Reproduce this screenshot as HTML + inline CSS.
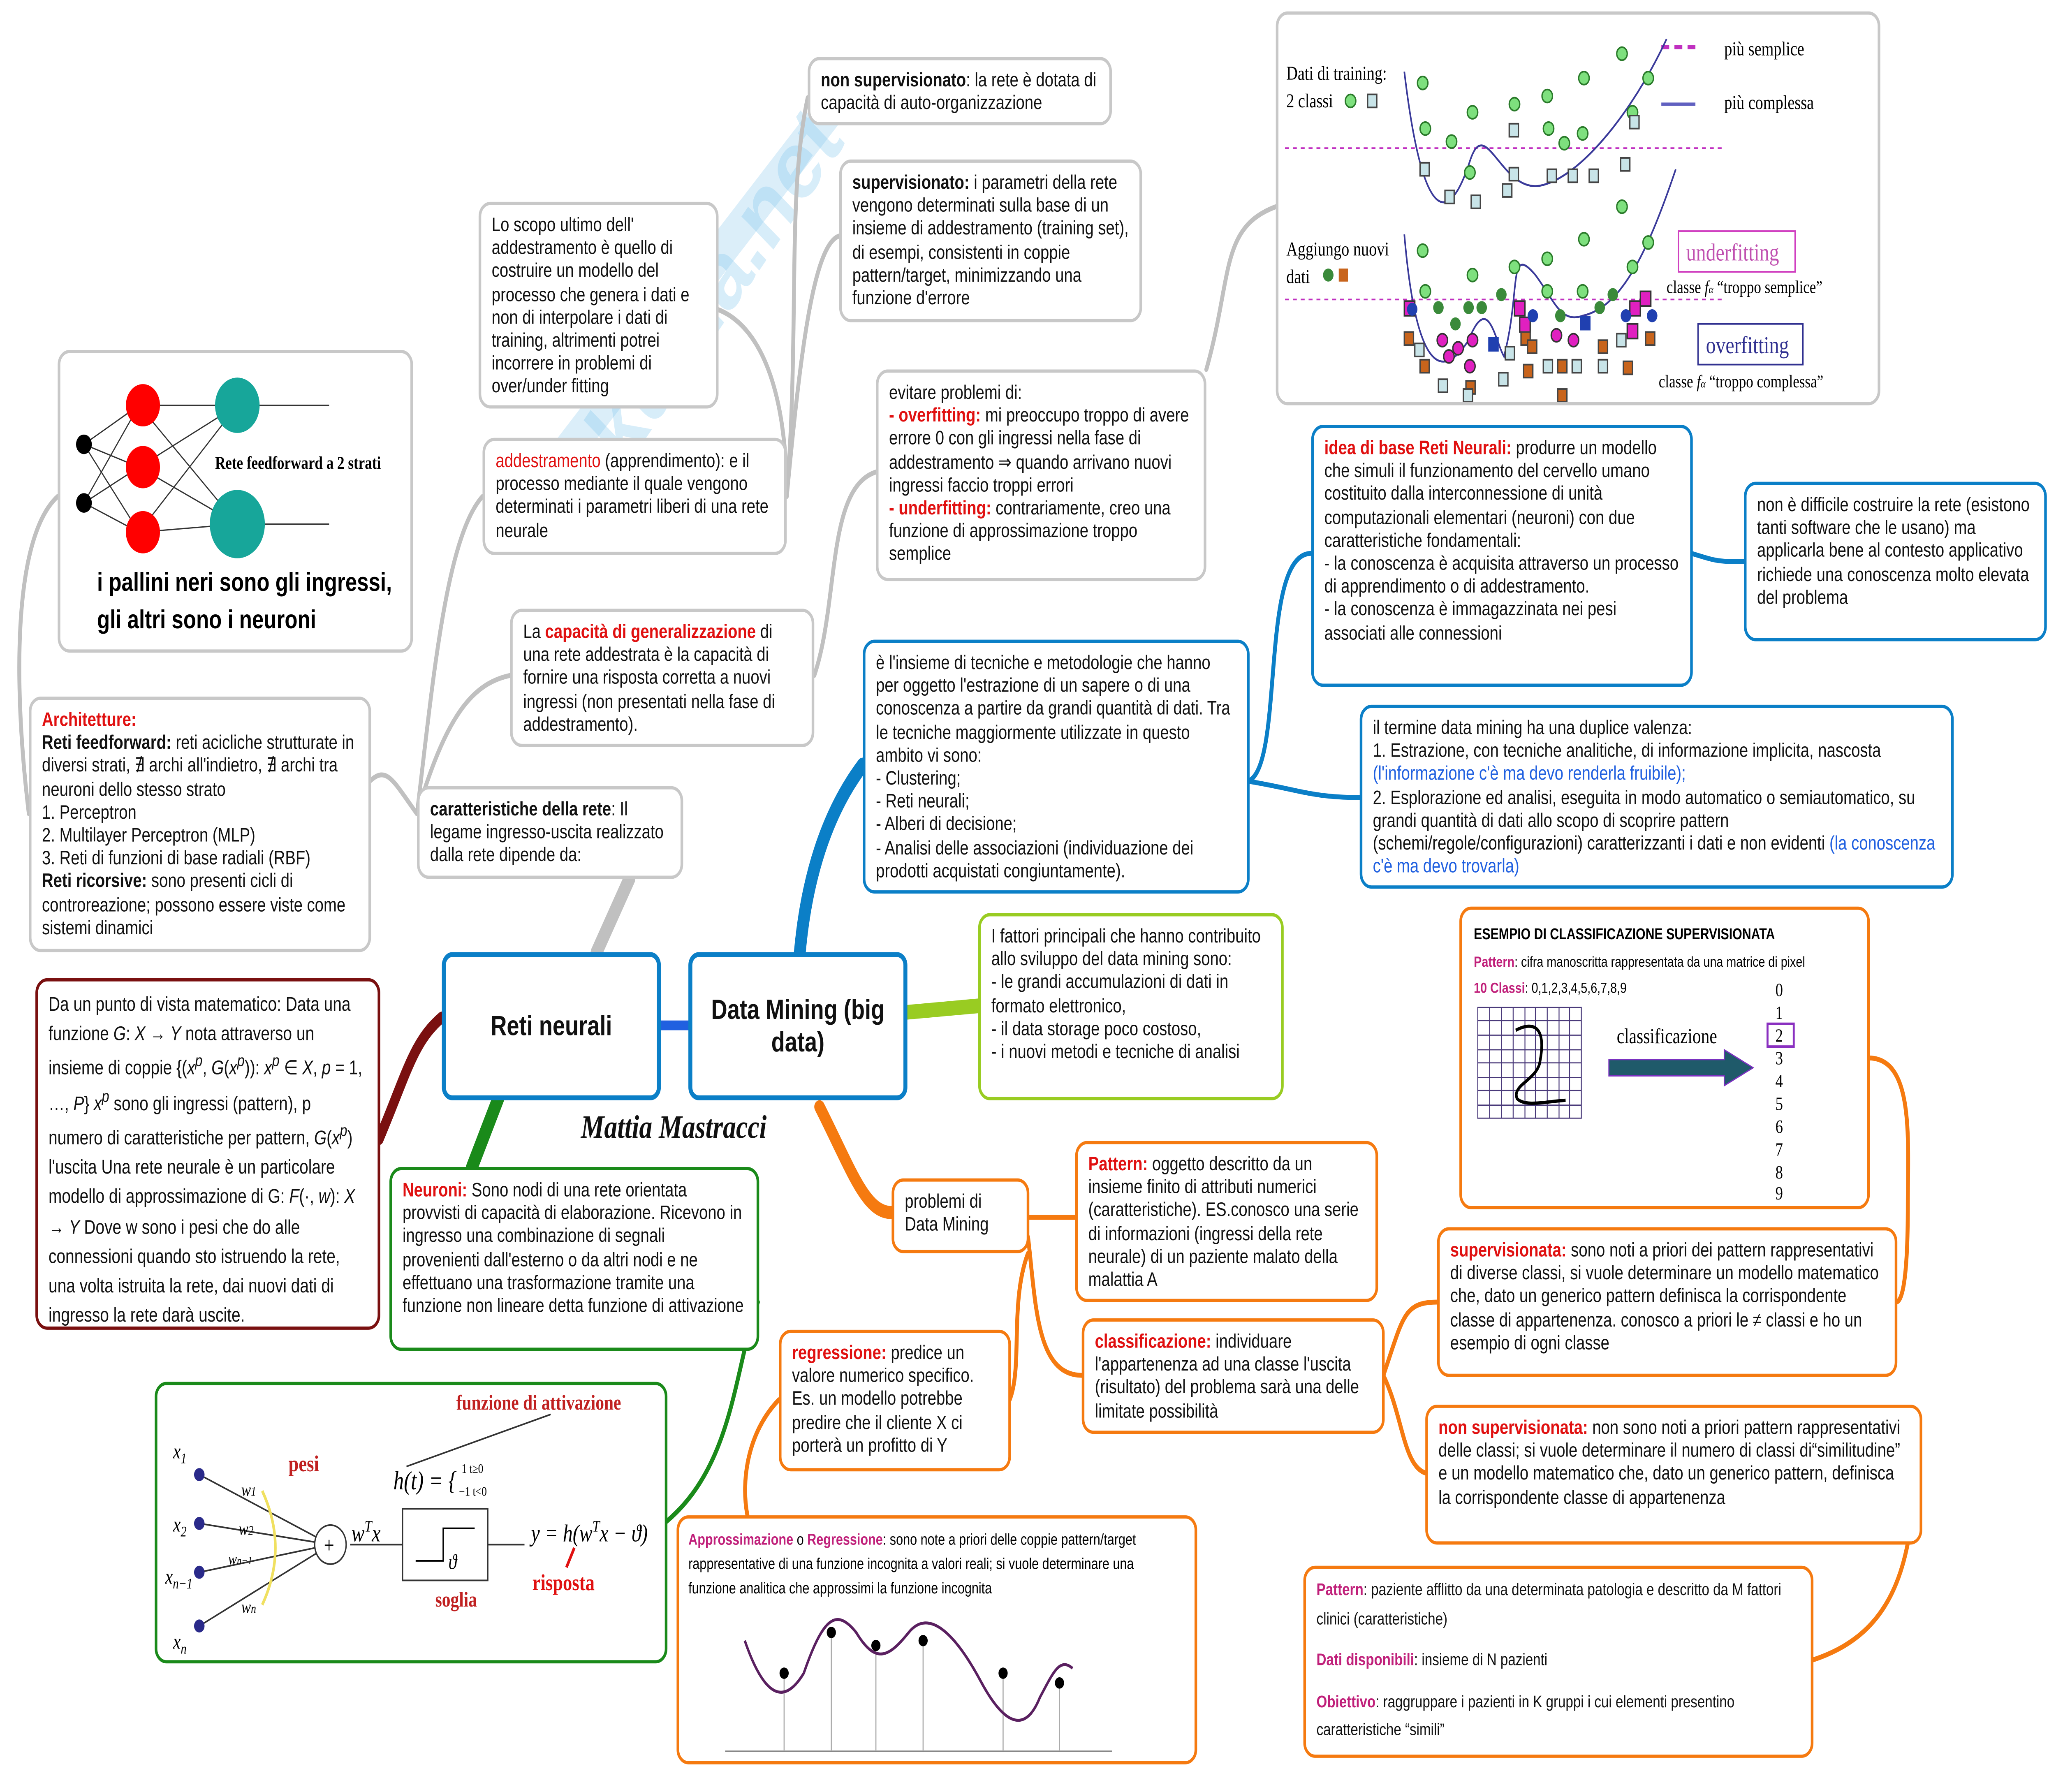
<!DOCTYPE html>
<html><head><meta charset="utf-8"><style>
html,body{margin:0;padding:0;background:#fff;overflow:hidden;}
#root{display:block;width:100vw;height:100vh;}
#s{position:relative;width:1568px;height:1101px;font-family:"Liberation Sans",sans-serif;color:#111;}
.b{position:absolute;box-sizing:border-box;border:2.5px solid #bbb;border-radius:9px;background:#fff;padding:5px 8px;font-size:12px;line-height:14.2px;overflow:hidden;}
.g{border-color:#c8c8c8}
.bl{border-color:#0b7fc7}
.gr{border-color:#1a8a1a}
.lg{border-color:#99cc22}
.or{border-color:#f57a10}
.dr{border-color:#7a1010}
.r{color:#e01010;font-weight:bold}
.pk{color:#c0207a;font-weight:bold}
.blt{color:#2060e0}
.c{position:absolute;box-sizing:border-box;border:3.5px solid #0b7fc7;border-radius:8px;background:#fff;font-size:17px;font-weight:bold;display:flex;align-items:center;justify-content:center;text-align:center;}
#s svg{position:absolute;left:0;top:0;}
</style></head><body>
<svg id="root" viewBox="0 0 1568 1101" preserveAspectRatio="none" xmlns="http://www.w3.org/2000/svg">
<foreignObject x="0" y="0" width="1568" height="1101">
<div xmlns="http://www.w3.org/1999/xhtml" id="s">
<svg width="1568" height="1101" viewBox="0 0 1568 1101" fill="none" stroke-linecap="round">
<g opacity="0.18" stroke="#3aa0e0" stroke-width="22"><path d="M430 280 L640 60"/></g>
<text x="450" y="320" transform="rotate(-50 450 320)" font-size="60" font-weight="bold" fill="#7cc4ee" opacity="0.3" font-family="Liberation Sans">Skuola.net</text>
<g stroke="#c0c0c0" stroke-width="3">
<path d="M318 500 C330 420,340 330,368 305"/>
<path d="M318 500 C340 440,360 420,389 415"/>
<path d="M318 500 C300 480,295 470,282 480"/>
<path d="M22 500 C10 420,10 330,44 305"/>
<path d="M600 305 C610 200,600 120,616 60"/>
<path d="M600 305 C610 220,620 150,640 145"/>
<path d="M547 190 C580 200,600 240,600 305"/>
<path d="M621 415 C640 370,630 300,668 290"/>
<path d="M920 227 C940 170,930 140,973 127"/>
</g>
<path d="M455 585 L480 540" stroke="#c0c0c0" stroke-width="9"/>
<path d="M337 625 C315 640,310 660,289 700" stroke="#7a1010" stroke-width="7"/>
<path d="M380 675 L360 717" stroke="#1a8a1a" stroke-width="9"/>
<path d="M578 800 C560 840,560 900,508 935" stroke="#1a8a1a" stroke-width="3"/>
<path d="M503 630 L525 630" stroke="#2060e0" stroke-width="6"/>
<path d="M610 585 C615 540,630 500,658 470" stroke="#0b7fc7" stroke-width="9"/>
<path d="M952 480 C980 470,960 340,1000 340" stroke="#0b7fc7" stroke-width="3"/>
<path d="M952 480 C990 485,1000 490,1037 490" stroke="#0b7fc7" stroke-width="3"/>
<path d="M1290 340 C1310 345,1310 345,1330 345" stroke="#0b7fc7" stroke-width="3"/>
<path d="M691 622 L746 618" stroke="#99cc22" stroke-width="9"/>
<g stroke="#f57a10" stroke-width="3">
<path d="M625 680 C650 720,660 745,680 745" stroke-width="8"/>
<path d="M784 748 C800 748,810 748,820 748"/>
<path d="M784 760 C790 800,790 845,825 845"/>
<path d="M784 770 C770 800,780 840,770 860"/>
<path d="M594 860 C570 880,565 910,570 931"/>
<path d="M1055 845 C1070 810,1070 800,1096 800"/>
<path d="M1055 845 C1070 870,1070 900,1087 905"/>
<path d="M1425 650 C1460 650,1455 700,1455 740 C1455 790,1450 800,1446 800"/>
<path d="M1455 948 C1445 990,1420 1010,1382 1020"/>
</g>
</svg>

<div class="b g" style="left:616px;top:35px;width:232px;height:42px;"><b>non supervisionato</b>: la rete è dotata di capacità di auto-organizzazione</div>
<div class="b g" style="left:640px;top:98px;width:231px;height:100px;"><b>supervisionato:</b> i parametri della rete vengono determinati sulla base di un insieme di addestramento (training set), di esempi, consistenti in coppie pattern/target, minimizzando una funzione d'errore</div>
<div class="b g" style="left:365px;top:124px;width:183px;height:127px;">Lo scopo ultimo dell' addestramento è quello di costruire un modello del processo che genera i dati e non di interpolare i dati di training, altrimenti potrei incorrere in problemi di over/under fitting</div>

<div class="b g" style="left:44px;top:215px;width:271px;height:186px;padding:0;">
<svg width="271" height="186" viewBox="0 0 271 186">
<g stroke="#333" stroke-width="0.8" fill="none">
<path d="M18 56 L60 32 M18 56 L60 70 M18 56 L60 110 M18 92 L60 32 M18 92 L60 70 M18 92 L60 110 M60 32 L135 32 M60 32 L135 105 M60 70 L135 32 M60 70 L135 105 M60 110 L135 32 M60 110 L135 105 M135 32 L205 32 M135 105 L205 105"/>
</g>
<circle cx="18" cy="56" r="6" fill="#000"/><circle cx="18" cy="92" r="6" fill="#000"/>
<circle cx="63" cy="32" r="13" fill="#f00"/><circle cx="63" cy="70" r="13" fill="#f00"/><circle cx="63" cy="110" r="13" fill="#f00"/>
<circle cx="135" cy="32" r="17" fill="#17a69a"/><circle cx="135" cy="105" r="21" fill="#17a69a"/>
<text x="118" y="71" font-size="11" font-weight="bold" font-family="Liberation Serif" fill="#000">Rete feedforward a 2 strati</text>
<text x="28" y="146" font-size="16" font-weight="bold" fill="#000" font-family="Liberation Sans">i pallini neri sono gli ingressi,</text>
<text x="28" y="169" font-size="16" font-weight="bold" fill="#000" font-family="Liberation Sans">gli altri sono i neuroni</text>
</svg></div>

<div class="b g" style="left:368px;top:269px;width:232px;height:72px;"><span style="color:#e01010">addestramento</span> (apprendimento): e il processo mediante il quale vengono determinati i parametri liberi di una rete neurale</div>
<div class="b g" style="left:668px;top:227px;width:252px;height:130px;">evitare problemi di:<br/><span class="r">- overfitting:</span> mi preoccupo troppo di avere errore 0 con gli ingressi nella fase di addestramento ⇒ quando arrivano nuovi ingressi faccio troppi errori<br/><span class="r">- underfitting:</span> contrariamente, creo una funzione di approssimazione troppo semplice</div>
<div class="b g" style="left:389px;top:374px;width:232px;height:85px;">La <span class="r">capacità di generalizzazione</span> di una rete addestrata è la capacità di fornire una risposta corretta a nuovi ingressi (non presentati nella fase di addestramento).</div>
<div class="b g" style="left:22px;top:428px;width:261px;height:157px;"><span class="r">Architetture:</span><br/><b>Reti feedforward:</b> reti acicliche strutturate in diversi strati, ∄ archi all'indietro, ∄ archi tra neuroni dello stesso strato<br/>1. Perceptron<br/>2. Multilayer Perceptron (MLP)<br/>3. Reti di funzioni di base radiali (RBF)<br/><b>Reti ricorsive:</b> sono presenti cicli di controreazione; possono essere viste come sistemi dinamici</div>
<div class="b g" style="left:318px;top:483px;width:203px;height:57px;"><b>caratteristiche della rete</b>: Il legame ingresso-uscita realizzato dalla rete dipende da:</div>

<div class="c" style="left:337px;top:585px;width:167px;height:91px;">Reti neurali</div>
<div class="c" style="left:525px;top:585px;width:167px;height:91px;">Data Mining (big data)</div>
<div style="position:absolute;left:443px;top:682px;font-family:'Liberation Serif',serif;font-style:italic;font-weight:bold;font-size:20px;">Mattia Mastracci</div>

<div class="b dr" style="left:27px;top:601px;width:263px;height:216px;font-size:12.2px;line-height:18.2px;">Da un punto di vista matematico: Data una funzione <i>G</i>: <i>X</i> → <i>Y</i> nota attraverso un insieme di coppie {(<i>x<sup>p</sup></i>, <i>G</i>(<i>x<sup>p</sup></i>)): <i>x<sup>p</sup></i> ∈ <i>X</i>, <i>p</i> = 1, …, <i>P</i>} <i>x<sup>p</sup></i> sono gli ingressi (pattern), p numero di caratteristiche per pattern, <i>G</i>(<i>x<sup>p</sup></i>) l'uscita Una rete neurale è un particolare modello di approssimazione di G: <i>F</i>(·, <i>w</i>): <i>X</i> → <i>Y</i> Dove w sono i pesi che do alle connessioni quando sto istruendo la rete, una volta istruita la rete, dai nuovi dati di ingresso la rete darà uscite.</div>
<div class="b gr" style="left:297px;top:717px;width:282px;height:113px;"><span class="r">Neuroni:</span> Sono nodi di una rete orientata provvisti di capacità di elaborazione. Ricevono in ingresso una combinazione di segnali provenienti dall'esterno o da altri nodi e ne effettuano una trasformazione tramite una funzione non lineare detta funzione di attivazione</div>

<div class="b gr" style="left:118px;top:849px;width:391px;height:173px;padding:0;">
<svg width="391" height="173" viewBox="0 0 391 173" font-family="Liberation Serif">
<g stroke="#333" stroke-width="1" fill="none"><path d="M32 55 L132 98 M32 85 L132 98 M32 115 L132 98 M32 148 L132 98 M147 98 L187 98 M252 98 L280 98 M190 50 L300 18"/></g>
<g fill="#2a2a8a"><circle cx="32" cy="55" r="4"/><circle cx="32" cy="85" r="4"/><circle cx="32" cy="115" r="4"/><circle cx="32" cy="148" r="4"/></g>
<circle cx="132" cy="98" r="12" stroke="#333" fill="#fff"/><text x="127" y="103" font-size="14">+</text>
<path d="M80 65 Q100 100 80 135" stroke="#f0e060" stroke-width="2" fill="none"/>
<rect x="187" y="76" width="65" height="44" stroke="#333" fill="#fff"/>
<path d="M197 108 L218 108 L218 88 L242 88" stroke="#000" fill="none"/>
<text x="222" y="113" font-size="13" font-style="italic">ϑ</text>
<text x="12" y="45" font-size="13" font-style="italic">x<tspan font-size="9" dy="3">1</tspan></text>
<text x="12" y="90" font-size="13" font-style="italic">x<tspan font-size="9" dy="3">2</tspan></text>
<text x="6" y="122" font-size="13" font-style="italic">x<tspan font-size="9" dy="3">n−1</tspan></text>
<text x="12" y="162" font-size="13" font-style="italic">x<tspan font-size="9" dy="3">n</tspan></text>
<text x="64" y="68" font-size="11" font-style="italic">w<tspan font-size="8">1</tspan></text>
<text x="62" y="92" font-size="11" font-style="italic">w<tspan font-size="8">2</tspan></text>
<text x="54" y="110" font-size="10" font-style="italic">w<tspan font-size="7">n−1</tspan></text>
<text x="64" y="140" font-size="11" font-style="italic">w<tspan font-size="8">n</tspan></text>
<text x="100" y="53" font-size="14" font-weight="bold" fill="#c02020">pesi</text>
<text x="148" y="96" font-size="15" font-style="italic">w<tspan font-size="10" dy="-6">T</tspan><tspan dy="6">x</tspan></text>
<text x="180" y="64" font-size="16" font-style="italic">h(t) = {</text>
<text x="232" y="54" font-size="8">1    t≥0</text><text x="230" y="68" font-size="8">−1   t&lt;0</text>
<text x="228" y="15" font-size="13" font-weight="bold" fill="#c02020">funzione di attivazione</text>
<text x="285" y="96" font-size="15" font-style="italic">y = h(w<tspan font-size="10" dy="-6">T</tspan><tspan dy="6">x − ϑ)</tspan></text>
<text x="212" y="136" font-size="13" font-weight="bold" fill="#c02020">soglia</text>
<text x="286" y="126" font-size="14" font-weight="bold" fill="#e01010">risposta</text>
<path d="M312 112 L318 100" stroke="#e01010" stroke-width="2"/>
</svg></div>

<div class="b g" style="left:973px;top:7px;width:461px;height:242px;padding:0;">
<svg width="461" height="242" viewBox="0 0 461 242" font-family="Liberation Serif">
<text x="6" y="40" font-size="12">Dati di training:</text><text x="6" y="57" font-size="12">2 classi</text>
<circle cx="55" cy="53" r="4" fill="#7ee07e" stroke="#2a7a2a"/><rect x="68" y="49" width="7" height="8" fill="#c8e4e8" stroke="#444"/>
<path d="M292 20 L318 20" stroke="#c030c0" stroke-width="2.5" stroke-dasharray="6 4" fill="none"/><text x="340" y="25" font-size="12">più semplice</text>
<path d="M292 55 L318 55" stroke="#6060c0" stroke-width="2" fill="none"/><text x="340" y="58" font-size="12">più complessa</text>
<path d="M5 82 L340 82" stroke="#c030c0" stroke-dasharray="3 3" fill="none"/>
<path d="M96 35 C110 130,130 130,146 90 C158 60,170 110,200 105 C230 100,270 60,296 15" stroke="#3a3a9a" stroke-width="1.2" fill="none"/>
<g fill="#7ee07e" stroke="#2a7a2a"><circle cx="110" cy="42" r="4"/><circle cx="112" cy="70" r="4"/><circle cx="132" cy="78" r="4"/><circle cx="148" cy="60" r="4"/><circle cx="180" cy="55" r="4"/><circle cx="205" cy="50" r="4"/><circle cx="206" cy="70" r="4"/><circle cx="218" cy="79" r="4"/><circle cx="232" cy="73" r="4"/><circle cx="233" cy="39" r="4"/><circle cx="262" cy="24" r="4"/><circle cx="270" cy="60" r="4"/><circle cx="282" cy="39" r="4"/><circle cx="146" cy="97" r="4"/></g>
<g fill="#c8e4e8" stroke="#444"><rect x="108" y="91" width="7" height="8"/><rect x="127" y="108" width="7" height="8"/><rect x="147" y="111" width="7" height="8"/><rect x="176" y="67" width="7" height="8"/><rect x="176" y="94" width="7" height="8"/><rect x="171" y="104" width="7" height="8"/><rect x="205" y="95" width="7" height="8"/><rect x="221" y="95" width="7" height="8"/><rect x="237" y="95" width="7" height="8"/><rect x="261" y="88" width="7" height="8"/><rect x="268" y="62" width="7" height="8"/></g>
<text x="6" y="148" font-size="12">Aggiungo nuovi</text><text x="6" y="165" font-size="12">dati</text>
<circle cx="38" cy="160" r="4" fill="#3a8a3a"/><rect x="46" y="156" width="7" height="8" fill="#c8641c"/>
<path d="M5 175 L340 175" stroke="#c030c0" stroke-dasharray="3 3" fill="none"/>
<path d="M96 135 C105 220,125 225,145 200 C160 170,165 200,172 210 C185 170,175 140,196 160 C210 175,215 190,232 185 C260 180,280 150,303 95" stroke="#3a3a9a" stroke-width="1.2" fill="none"/>
<g fill="#7ee07e" stroke="#2a7a2a"><circle cx="110" cy="145" r="4"/><circle cx="112" cy="170" r="4"/><circle cx="148" cy="160" r="4"/><circle cx="180" cy="155" r="4"/><circle cx="205" cy="150" r="4"/><circle cx="233" cy="138" r="4"/><circle cx="262" cy="118" r="4"/><circle cx="270" cy="155" r="4"/><circle cx="282" cy="140" r="4"/><circle cx="205" cy="170" r="4"/><circle cx="232" cy="170" r="4"/></g>
<g fill="#3a8a3a"><circle cx="122" cy="180" r="4"/><circle cx="145" cy="180" r="4"/><circle cx="155" cy="180" r="4"/><circle cx="170" cy="172" r="4"/><circle cx="215" cy="185" r="4"/><circle cx="245" cy="180" r="4"/><circle cx="255" cy="172" r="4"/><circle cx="135" cy="190" r="4"/></g>
<g fill="#e020c0" stroke="#333"><rect x="96" y="176" width="8" height="9"/><circle cx="125" cy="200" r="4"/><circle cx="137" cy="205" r="4"/><circle cx="148" cy="200" r="4"/><circle cx="130" cy="210" r="4"/><circle cx="146" cy="216" r="4"/><rect x="180" y="176" width="8" height="9"/><rect x="184" y="186" width="8" height="9"/><circle cx="212" cy="197" r="4"/><circle cx="225" cy="200" r="4"/><rect x="268" y="176" width="8" height="9"/><rect x="276" y="170" width="8" height="9"/><rect x="266" y="190" width="8" height="9"/></g>
<g fill="#2040b0"><circle cx="102" cy="181" r="4"/><circle cx="194" cy="185" r="4"/><rect x="230" y="185" width="8" height="9"/><rect x="160" y="198" width="8" height="9"/><circle cx="285" cy="185" r="4"/><circle cx="265" cy="185" r="4"/></g>
<g fill="#c8641c" stroke="#444"><rect x="96" y="195" width="7" height="8"/><rect x="108" y="212" width="7" height="8"/><rect x="143" y="225" width="7" height="8"/><rect x="185" y="195" width="7" height="8"/><rect x="190" y="200" width="7" height="8"/><rect x="187" y="215" width="7" height="8"/><rect x="213" y="212" width="7" height="8"/><rect x="244" y="200" width="7" height="8"/><rect x="263" y="213" width="7" height="8"/><rect x="280" y="195" width="7" height="8"/><rect x="213" y="230" width="7" height="8"/></g>
<g fill="#c8e4e8" stroke="#444"><rect x="104" y="202" width="7" height="8"/><rect x="122" y="224" width="7" height="8"/><rect x="168" y="220" width="7" height="8"/><rect x="173" y="204" width="7" height="8"/><rect x="202" y="212" width="7" height="8"/><rect x="224" y="212" width="7" height="8"/><rect x="244" y="212" width="7" height="8"/><rect x="258" y="196" width="7" height="8"/><rect x="141" y="230" width="7" height="8"/></g>
<rect x="305" y="133" width="89" height="25" stroke="#d040c0" fill="none"/><text x="311" y="151" font-size="15" fill="#c050b0">underfitting</text>
<text x="296" y="171" font-size="11">classe <tspan font-style="italic">f</tspan><tspan font-size="7" font-style="italic">α</tspan> “troppo semplice”</text>
<rect x="320" y="190" width="80" height="25" stroke="#303090" fill="none"/><text x="326" y="208" font-size="15" fill="#303090">overfitting</text>
<text x="290" y="229" font-size="11">classe <tspan font-style="italic">f</tspan><tspan font-size="7" font-style="italic">α</tspan> “troppo complessa”</text>
</svg></div>

<div class="b bl" style="left:1000px;top:261px;width:291px;height:161px;"><span class="r">idea di base Reti Neurali:</span> produrre un modello che simuli il funzionamento del cervello umano costituito dalla interconnessione di unità computazionali elementari (neuroni) con due caratteristiche fondamentali:<br/>- la conoscenza è acquisita attraverso un processo di apprendimento o di addestramento.<br/>- la conoscenza è immagazzinata nei pesi associati alle connessioni</div>
<div class="b bl" style="left:1330px;top:296px;width:231px;height:98px;">non è difficile costruire la rete (esistono tanti software che le usano) ma applicarla bene al contesto applicativo richiede una conoscenza molto elevata del problema</div>
<div class="b bl" style="left:658px;top:393px;width:295px;height:156px;">è l'insieme di tecniche e metodologie che hanno per oggetto l'estrazione di un sapere o di una conoscenza a partire da grandi quantità di dati. Tra le tecniche maggiormente utilizzate in questo ambito vi sono:<br/>- Clustering;<br/>- Reti neurali;<br/>- Alberi di decisione;<br/>- Analisi delle associazioni (individuazione dei prodotti acquistati congiuntamente).</div>
<div class="b bl" style="left:1037px;top:433px;width:453px;height:113px;">il termine data mining ha una duplice valenza:<br/>1. Estrazione, con tecniche analitiche, di informazione implicita, nascosta <span class="blt">(l'informazione c'è ma devo renderla fruibile);</span><br/>2. Esplorazione ed analisi, eseguita in modo automatico o semiautomatico, su grandi quantità di dati allo scopo di scoprire pattern (schemi/regole/configurazioni) caratterizzanti i dati e non evidenti <span class="blt">(la conoscenza c'è ma devo trovarla)</span></div>
<div class="b lg" style="left:746px;top:561px;width:233px;height:115px;">I fattori principali che hanno contribuito allo sviluppo del data mining sono:<br/>- le grandi accumulazioni di dati in formato elettronico,<br/>- il data storage poco costoso,<br/>- i nuovi metodi e tecniche di analisi</div>

<div class="b or" style="left:1113px;top:557px;width:313px;height:186px;padding:0;">
<svg width="313" height="186" viewBox="0 0 313 186" font-family="Liberation Sans">
<text x="9" y="18" font-size="9.5" font-weight="bold">ESEMPIO DI CLASSIFICAZIONE SUPERVISIONATA</text>
<text x="9" y="35" font-size="9"><tspan fill="#c0207a" font-weight="bold">Pattern</tspan>: cifra manoscritta rappresentata da una matrice di pixel</text>
<text x="9" y="51" font-size="9"><tspan fill="#c0207a" font-weight="bold">10 Classi</tspan>: 0,1,2,3,4,5,6,7,8,9</text>
<g stroke="#4a3a7a" stroke-width="0.7" fill="none"><rect x="12" y="60" width="79" height="68"/>
<path d="M21 60V128M30 60V128M39 60V128M48 60V128M56 60V128M65 60V128M74 60V128M82 60V128M12 68H91M12 77H91M12 86H91M12 94H91M12 103H91M12 111H91M12 120H91"/></g>
<path d="M41 74 C55 68,65 72,59 95 C55 105,38 108,42 116 C48 121,62 118,79 117" stroke="#000" stroke-width="2" fill="none"/>
<text x="118" y="82" font-size="13" font-family="Liberation Serif">classificazione</text>
<path d="M112 92 L200 92 L200 86 L222 97 L200 108 L200 102 L112 102Z" fill="#1f5a6a" stroke="#7a30c0" stroke-width="0.8"/>
<g font-family="Liberation Serif" font-size="11.5"><text x="239" y="53">0</text><text x="239" y="67">1</text><text x="239" y="81">2</text><text x="239" y="95">3</text><text x="239" y="109">4</text><text x="239" y="123">5</text><text x="239" y="137">6</text><text x="239" y="151">7</text><text x="239" y="165">8</text><text x="239" y="178">9</text></g>
<rect x="233" y="70" width="20" height="14" stroke="#8a30c0" stroke-width="1.5" fill="none"/>
</svg></div>

<div class="b or" style="left:680px;top:724px;width:105px;height:46px;">problemi di Data Mining</div>
<div class="b or" style="left:820px;top:701px;width:231px;height:99px;"><span class="r">Pattern:</span> oggetto descritto da un insieme finito di attributi numerici (caratteristiche). ES.conosco una serie di informazioni (ingressi della rete neurale) di un paziente malato della malattia A</div>
<div class="b or" style="left:594px;top:817px;width:177px;height:87px;"><span class="r">regressione:</span> predice un valore numerico specifico. Es. un modello potrebbe predire che il cliente X ci porterà un profitto di Y</div>
<div class="b or" style="left:825px;top:810px;width:231px;height:71px;"><span class="r">classificazione:</span> individuare l'appartenenza ad una classe l'uscita (risultato) del problema sarà una delle limitate possibilità</div>
<div class="b or" style="left:1096px;top:754px;width:351px;height:92px;"><span class="r">supervisionata:</span> sono noti a priori dei pattern rappresentativi di diverse classi, si vuole determinare un modello matematico che, dato un generico pattern definisca la corrispondente classe di appartenenza. conosco a priori le ≠ classi e ho un esempio di ogni classe</div>
<div class="b or" style="left:1087px;top:863px;width:379px;height:86px;"><span class="r">non supervisionata:</span> non sono noti a priori pattern rappresentativi delle classi; si vuole determinare il numero di classi di“similitudine” e un modello matematico che, dato un generico pattern, definisca la corrispondente classe di appartenenza</div>

<div class="b or" style="left:516px;top:931px;width:397px;height:153px;padding:0;">
<svg width="397" height="153" viewBox="0 0 397 153" font-family="Liberation Sans">
<text x="7" y="16" font-size="9.6"><tspan fill="#c0207a" font-weight="bold">Approssimazione</tspan> o <tspan fill="#c0207a" font-weight="bold">Regressione</tspan>: sono note a priori delle coppie pattern/target</text>
<text x="7" y="31" font-size="9.6">rappresentative di una funzione incognita a valori reali; si vuole determinare una</text>
<text x="7" y="46" font-size="9.6">funzione analitica che approssimi la funzione incognita</text>
<path d="M35 143 L330 143" stroke="#888" fill="none"/>
<g stroke="#aaa" stroke-width="0.8" fill="none"><path d="M80 95V143M116 70V143M150 78V143M186 75V143M247 95V143M290 101V143"/></g>
<path d="M50 75 C65 110,80 115,95 95 C110 60,120 55,135 70 C150 90,160 85,175 70 C190 55,210 70,230 100 C250 130,265 130,275 110 C285 95,290 85,300 92" stroke="#5a2060" stroke-width="1.8" fill="none"/>
<g fill="#000"><circle cx="80" cy="95" r="3.5"/><circle cx="116" cy="70" r="3.5"/><circle cx="150" cy="78" r="3.5"/><circle cx="186" cy="75" r="3.5"/><circle cx="247" cy="95" r="3.5"/><circle cx="290" cy="101" r="3.5"/></g>
</svg></div>

<div class="b or" style="left:994px;top:962px;width:389px;height:118px;font-size:10.4px;line-height:17.5px;"><span class="pk">Pattern</span>: paziente afflitto da una determinata patologia e descritto da M fattori clinici (caratteristiche)<div style="height:8px"></div><span class="pk">Dati disponibili</span>: insieme di N pazienti<div style="height:8px"></div><span class="pk">Obiettivo</span>: raggruppare i pazienti in K gruppi i cui elementi presentino caratteristiche “simili”</div>
</div>
</foreignObject>
</svg>
</body></html>
